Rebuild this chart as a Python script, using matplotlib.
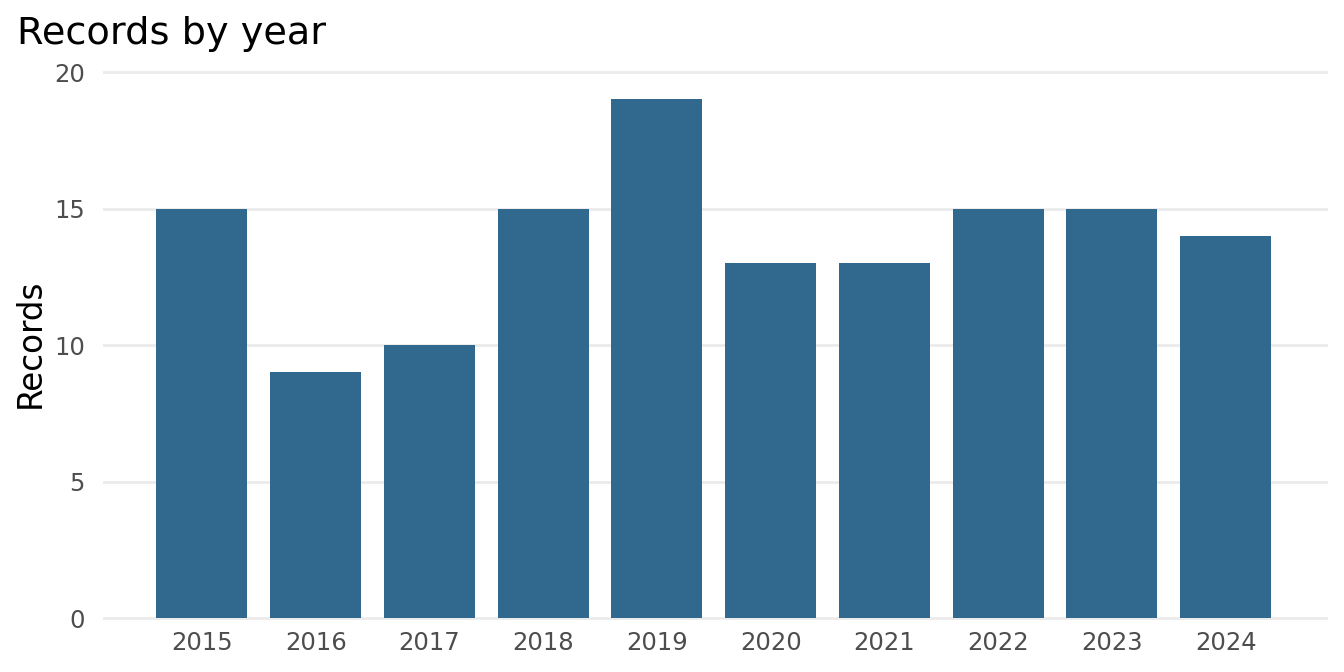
import matplotlib
matplotlib.use("Agg")
import matplotlib.pyplot as plt
import numpy as np

years = ["2015", "2016", "2017", "2018", "2019", "2020", "2021", "2022", "2023", "2024"]
records = [15, 9, 10, 15, 19, 13, 13, 15, 15, 14]
yticks = [0, 5, 10, 15, 20]

bar_color = "#31688e"
grid_color = "#ebebeb"
tick_color = "#4d4d4d"

plt.rcParams["font.family"] = ["DejaVu Sans"]

fig = plt.figure(figsize=(13.44, 6.72), dpi=100)
ax = fig.add_axes([103 / 1344, 1 - 625 / 672, 1225 / 1344, 555 / 672])

x = np.arange(len(years))
ax.bar(x, records, width=0.8, color=bar_color, zorder=2)

ax.set_xlim(-0.87, 9.9)
ax.set_ylim(-0.25, 20.08)
ax.set_yticks(yticks)
ax.set_yticklabels([str(v) for v in yticks])
ax.set_xticks(x)
ax.set_xticklabels(years)

for v in yticks:
    ax.axhline(v, color=grid_color, lw=2, zorder=1)

for s in ax.spines.values():
    s.set_visible(False)
ax.tick_params(axis="both", length=0, labelsize=17.5, colors=tick_color)
ax.tick_params(axis="x", pad=4)
ax.tick_params(axis="y", pad=13)

fig.text(30 / 1344, 1 - 343 / 672, "Records", rotation=90, fontsize=23.5,
         ha="center", va="center", color="black")
fig.text(17 / 1344, 1 - 44 / 672, "Records by year", fontsize=27.5,
         ha="left", va="baseline", color="black")

fig.savefig("out.png", dpi=100)
